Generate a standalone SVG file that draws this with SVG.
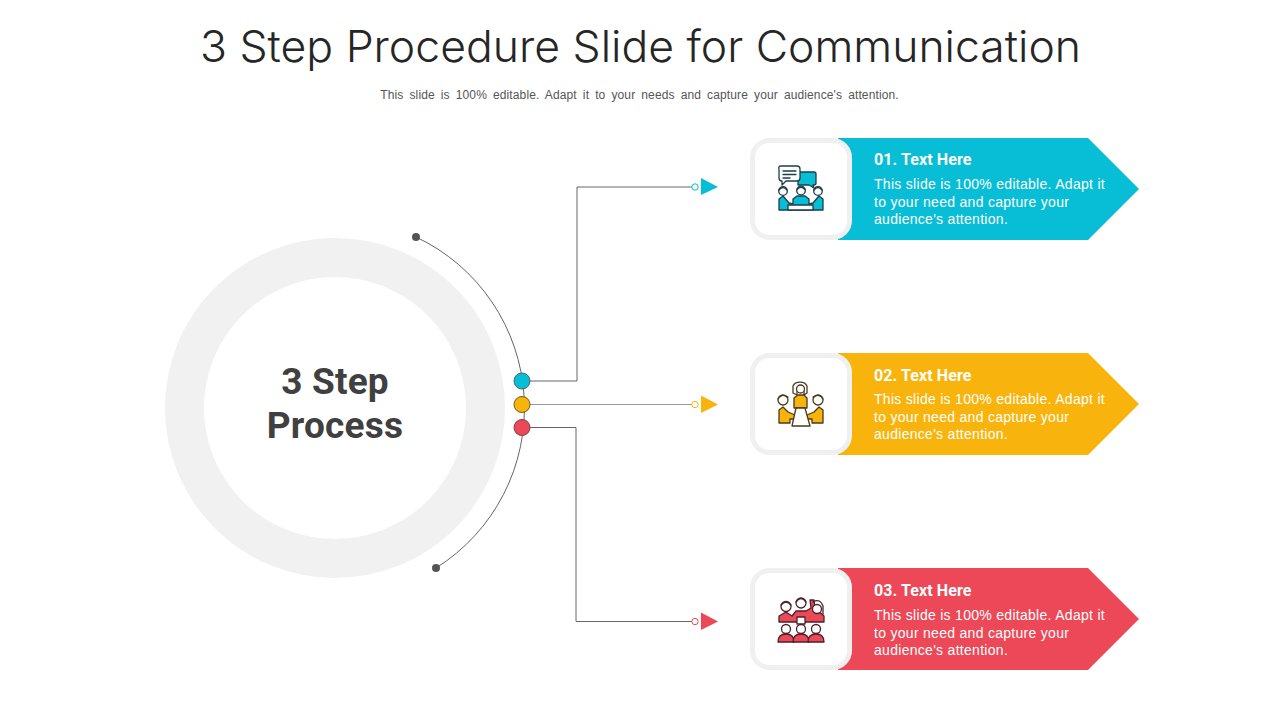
<svg xmlns="http://www.w3.org/2000/svg" width="1280" height="720" viewBox="0 0 1280 720">
<style>
.t{font-family:"Liberation Sans",Arial,sans-serif}
.title{font-family:Inter,Lato,"Liberation Sans",sans-serif;font-size:44px;font-weight:300;fill:#262626;font-variant-ligatures:none}
.sub{font-size:12px;fill:#555;word-spacing:2.6px;letter-spacing:.12px}
.hub{font-family:Roboto,"Liberation Sans",sans-serif;font-weight:700;font-size:37px;fill:#404040;letter-spacing:.2px}
.h{font-family:Roboto,"Liberation Sans",sans-serif;font-size:16px;font-weight:700;fill:#fff;letter-spacing:.1px}
.b{font-size:14px;fill:#fff;letter-spacing:.29px}
.card{fill:#fff;stroke:#f0f0f0;stroke-width:5}
.ln{fill:none;stroke:#666;stroke-width:1}
.ic{stroke-width:1.3;stroke-linejoin:round;stroke-linecap:round}
.w{fill:#fff}
.n{fill:none}
</style>
<rect width="1280" height="720" fill="#fff"/>
<text id="title" class="title" x="640.5" y="62" text-anchor="middle" textLength="881" lengthAdjust="spacingAndGlyphs">3 Step Procedure Slide for Communication</text>
<text id="subtitle" class="t sub" x="639.500" y="99" text-anchor="middle">This slide is 100% editable. Adapt it to your needs and capture your audience's attention.</text>

<g id="hub">
<circle cx="335" cy="408" r="150.500" fill="none" stroke="#f1f1f1" stroke-width="39"/>
<text class="hub" x="335" y="394" text-anchor="middle">3 Step</text>
<text class="hub" x="335" y="438" text-anchor="middle">Process</text>
</g>

<g id="connectors">
<path class="ln" d="M416 237A189 189 0 0 1 436 568"/>
<circle cx="416" cy="237" r="4" fill="#555"/>
<circle cx="436" cy="568" r="4" fill="#555"/>
<path class="ln" d="M522 381H577V187H692"/>
<path d="M522 404.500H692" fill="none" stroke="#999" stroke-width="1"/>
<path class="ln" d="M522 427.500H576V621.500H692"/>
<circle cx="522" cy="381" r="8" fill="#08bdd6" stroke="#4a6a70" stroke-width="1"/>
<circle cx="522" cy="404.500" r="8" fill="#f8b40c" stroke="#6a5a20" stroke-width="1"/>
<circle cx="522" cy="427.500" r="8" fill="#ec4857" stroke="#7a4048" stroke-width="1"/>
<circle cx="695" cy="187" r="3.200" fill="#fff" stroke="#08bdd6"/>
<circle cx="695" cy="404.500" r="3.200" fill="#fff" stroke="#f8b40c"/>
<circle cx="695" cy="621.500" r="3.200" fill="#fff" stroke="#ec4857"/>
<path d="M701 178L718 187L701 195Z" fill="#08bdd6"/>
<path d="M701 395.500L718 404.500L701 413Z" fill="#f8b40c"/>
<path d="M701 612.500L718 621.500L701 630Z" fill="#ec4857"/>
</g>

<g id="step1">
<path d="M838 138H1088L1139 189L1088 240H838Z" fill="#08bdd6"/>
<rect class="card" x="752.500" y="140.500" width="97" height="97" rx="17"/>
<g class="ic" fill="#08bdd6" stroke="#1c3f48">
<path d="M798 172H814a2 2 0 0 1 2 2V183a2 2 0 0 1-2 2H813L814 188L809 185H798Z"/>
<path class="w" d="M781 166H797a3 3 0 0 1 3 3V178a3 3 0 0 1-3 3H786L782 185V181a3 3 0 0 1-3-3V169a2 2 0 0 1 2-3Z"/>
<path class="n" d="M783 171H796M783 174.500H796M783 178H790"/>
<path d="M779 210V199L783 196L789 203L793 204V199L797 196H805L809 199V204L813 203L819 196L823 199V210Z"/>
<path class="w" d="M788 205H813V210H788Z"/>
<circle class="w" cx="783" cy="191" r="4.300"/><circle class="w" cx="801" cy="190.500" r="4.300"/><circle class="w" cx="818" cy="191" r="4.300"/>
<path class="n" d="M779 190Q783 185 787 190M797 189.500Q801 185 805 189.500M814 190Q818 185 822 190"/>
</g>
<text class="h" x="874" y="164.500">01. Text Here</text>
<text class="t b" x="874" y="189">This slide is 100% editable. Adapt it</text>
<text class="t b" x="874" y="206.500">to your need and capture your</text>
<text class="t b" x="874" y="224">audience's attention.</text>
</g>

<g id="step2">
<path d="M838 353H1088L1139 404L1088 455H838Z" fill="#f8b40c"/>
<rect class="card" x="752.500" y="355.500" width="97" height="97" rx="17"/>
<g class="ic" fill="#f8b40c" stroke="#4a3a1a">
<path d="M794 408V398L798 395H804L807 398V408Z"/>
<path class="w" d="M793 393V386a7.500 6 0 0 1 14 0V393L804 395V391H797V395Z"/>
<circle class="w" cx="800.500" cy="389" r="4"/>
<path d="M779 423V410L783 407L788 412L795 415V419H790V423Z"/>
<path d="M823 423V410L819 407L814 412L807 415V419H812V423Z"/>
<path class="w" d="M796 408H805L810 426H792Z"/>
<circle class="w" cx="783" cy="400" r="5"/><circle class="w" cx="818" cy="400" r="5"/>
<path class="n" d="M778 399Q781 393 788 397M823 399Q820 393 813 397"/>
</g>
<text class="h" x="874" y="380.500">02. Text Here</text>
<text class="t b" x="874" y="404">This slide is 100% editable. Adapt it</text>
<text class="t b" x="874" y="421.500">to your need and capture your</text>
<text class="t b" x="874" y="439">audience's attention.</text>
</g>

<g id="step3">
<path d="M838 568H1088L1139 619L1088 670H838Z" fill="#ec4857"/>
<rect class="card" x="752.500" y="570.500" width="97" height="97" rx="17"/>
<g class="ic" fill="#ec4857" stroke="#4a2228">
<path d="M779 622V616L786 612L792 616L796 611L806 611L811 608L810 600L814 600L815 608L824 616V622Z"/>
<path class="w" d="M797 617H805V624H797Z"/>
<circle class="w" cx="786" cy="606.500" r="5"/><circle class="w" cx="801" cy="603" r="5"/><circle class="w" cx="817" cy="609" r="4.500"/>
<path class="n" d="M796 602Q801 595 806 602M781 605Q786 599 791 605M813 602Q820 598 823 606V614"/>
<path d="M778 642C778 636 782 634 786 634C790 634 794 636 794 642Z"/>
<path d="M793 642C793 636 797 634 801 634C805 634 809 636 809 642Z"/>
<path d="M808 642C808 636 812 634 816 634C820 634 824 636 824 642Z"/>
<circle class="w" cx="786" cy="629" r="4.500"/><circle class="w" cx="801" cy="629" r="4.500"/><circle class="w" cx="816" cy="629" r="4.500"/>
</g>
<text class="h" x="874" y="595.500">03. Text Here</text>
<text class="t b" x="874" y="620">This slide is 100% editable. Adapt it</text>
<text class="t b" x="874" y="637.500">to your need and capture your</text>
<text class="t b" x="874" y="655">audience's attention.</text>
</g>
</svg>
